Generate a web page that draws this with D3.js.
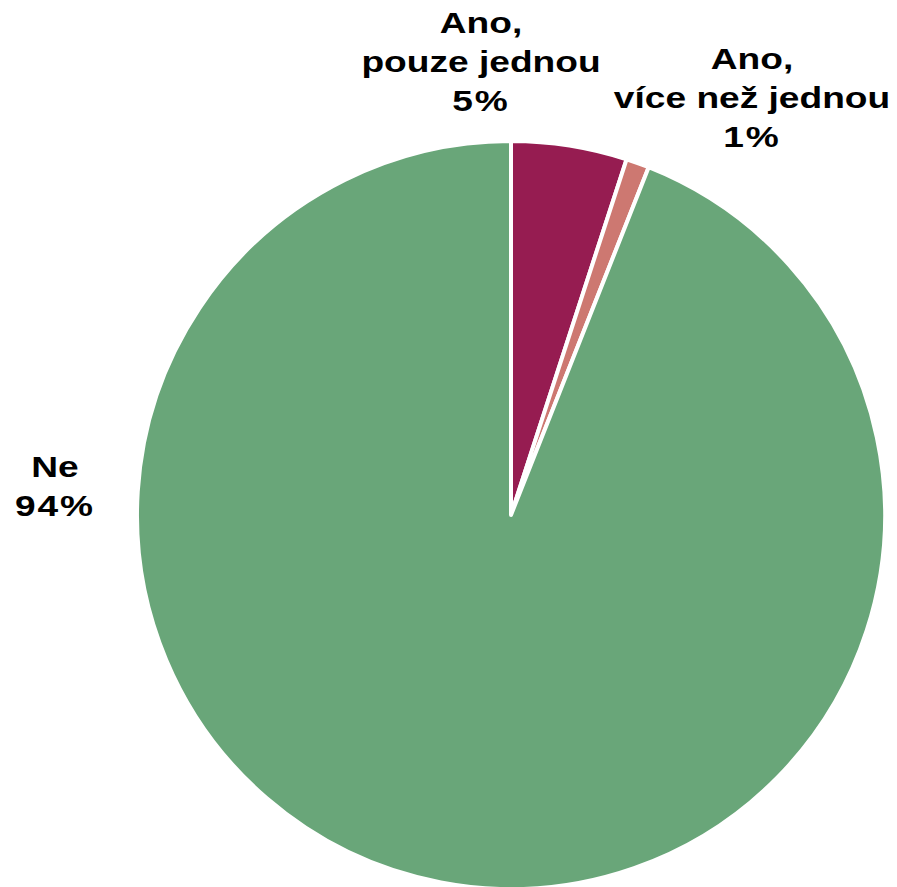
<!DOCTYPE html>
<html>
<head>
<meta charset="utf-8">
<script src="https://cdn.jsdelivr.net/npm/d3@7"></script>
<style>
  html, body { margin: 0; padding: 0; background: #fff; }
  svg { display: block; }
  text { font-family: "Liberation Sans", Arial, sans-serif; font-weight: bold; fill: #000; }
</style>
</head>
<body>
<svg id="chart" width="897" height="887"></svg>
<script>
// Survey answers and their shares (percent)
const categories = ["Ano, pouze jednou", "Ano, více než jednou", "Ne"];
const labelLines = [["Ano,", "pouze jednou"], ["Ano,", "více než jednou"], ["Ne"]];
const values = [5, 1, 94];
const colors = ["#961C51", "#CD7871", "#69A679"];

const W = 897, H = 887;
const cx = 511, cy = 515, radius = 374;

// label anchor positions (centre x, first baseline y)
const labelAnchor = [[481, 33], [752, 69], [55, 477]];
const lineGap = 39;

const svg = d3.select("#chart");
const g = svg.append("g").attr("transform", `translate(${cx},${cy})`);

const pie = d3.pie().sort(null).value(d => d)(values);
const arc = d3.arc().innerRadius(0).outerRadius(radius);

g.selectAll("path.slice")
  .data(pie)
  .join("path")
  .attr("class", "slice")
  .attr("d", arc)
  .attr("fill", (d, i) => colors[i])
  .attr("stroke", "#fff")
  .attr("stroke-width", 4)
  .attr("stroke-linejoin", "round");

const total = d3.sum(values);
const fmt = v => Math.round(v / total * 100) + "%";

const labels = svg.selectAll("g.label")
  .data(pie)
  .join("g")
  .attr("class", "label")
  .attr("transform", (d, i) => `translate(${labelAnchor[i][0]},${labelAnchor[i][1]})`);

labels.each(function (d, i) {
  const lines = labelLines[i].concat([fmt(d.value)]);
  const t = d3.select(this).append("text")
    .attr("text-anchor", "middle")
    .attr("font-size", 29)
    .attr("transform", "scale(1.28,1)");
  lines.forEach((ln, k) => {
    const isPct = k === lines.length - 1;
    t.append("tspan")
      .attr("x", 0)
      .attr("y", k * lineGap)
      .attr("letter-spacing", isPct ? 1.5 : 0)
      .text(ln);
  });
});
</script>
</body>
</html>
